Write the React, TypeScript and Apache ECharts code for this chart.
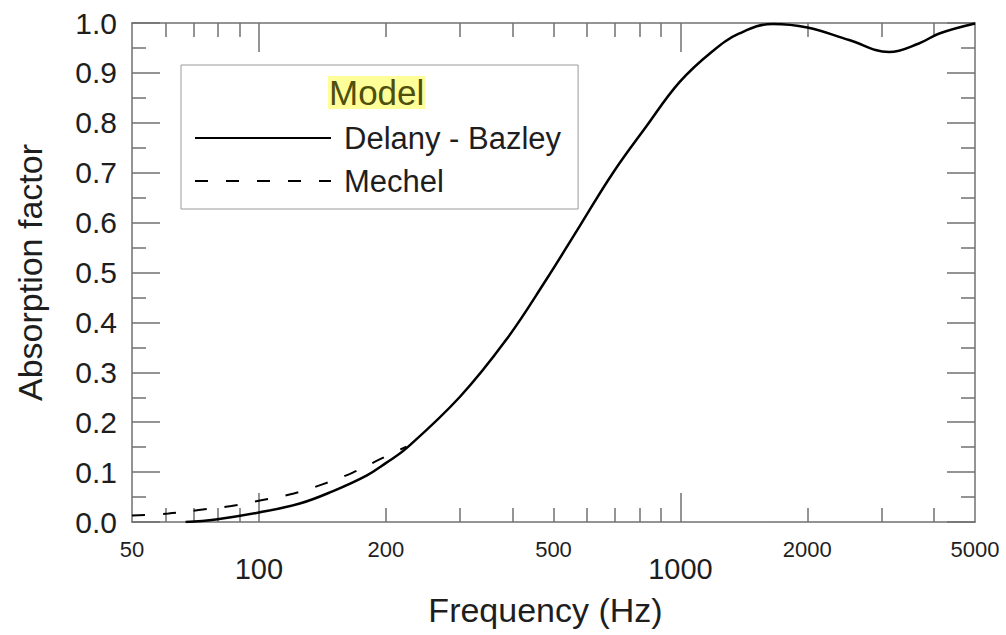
import React, { useEffect, useRef } from "react";
import * as echarts from "echarts";

const FONT = "'Liberation Sans', Arial, Helvetica, sans-serif";

// Delany - Bazley model (frequency in Hz, absorption factor)
const delanyFreq = [67, 79, 100, 125, 150, 180, 200, 224, 300, 386, 480, 576, 691, 829, 994, 1190, 1380, 1655, 2000, 2514, 3126, 3680, 4114, 5000];
const delanyAbs = [0.0, 0.005, 0.019, 0.037, 0.062, 0.093, 0.118, 0.148, 0.251, 0.365, 0.485, 0.592, 0.699, 0.792, 0.881, 0.943, 0.979, 0.998, 0.991, 0.966, 0.942, 0.959, 0.979, 0.999];

// Mechel model
const mechelFreq = [50, 61, 72, 86, 102, 121, 142, 167, 195, 224];
const mechelAbs = [0.013, 0.017, 0.024, 0.032, 0.044, 0.057, 0.076, 0.099, 0.127, 0.151];

// Axis ticks and labels
const minorFreqTicks = [60, 70, 80, 90, 200, 300, 400, 500, 600, 700, 800, 900, 2000, 3000, 4000];
const majorFreqTicks = [100, 1000];
const smallFreqLabels = [50, 200, 500, 2000, 5000];
const largeFreqLabels = [100, 1000];

const seriesNames = ["Delany - Bazley", "Mechel"];
const legendTitle = "Model";
const xTitle = "Frequency (Hz)";
const yTitle = "Absorption factor";

export default function App() {
  const ref = useRef<HTMLDivElement>(null);

  useEffect(() => {
    if (!ref.current) return;
    const chart = echarts.init(ref.current, null, { renderer: "svg" });
    const axisColor = "#707070";
    const textColor = "#1e1e1e";
    const lineStyle = { color: axisColor, width: 1.5 };
    const baseX: any = {
      type: "log",
      logBase: 10,
      min: 50,
      max: 5000,
      gridIndex: 0,
      splitLine: { show: false },
      minorTick: { show: false },
    };
    const pairs = (xs: number[], ys: number[]) => xs.map((x, i) => [x, ys[i]]);
    const plain = (v: number) => String(Math.round(v));

    chart.setOption({
      animation: false,
      grid: { left: 132, right: 31, top: 23, bottom: 113 },
      xAxis: [
        {
          ...baseX,
          position: "bottom",
          axisLine: { show: true, lineStyle },
          axisTick: { show: true, inside: true, length: 14, customValues: minorFreqTicks, lineStyle },
          axisLabel: {
            show: true,
            customValues: smallFreqLabels,
            formatter: plain,
            fontSize: 22,
            color: textColor,
            fontFamily: FONT,
            margin: 16,
          },
          name: xTitle,
          nameLocation: "middle",
          nameGap: 88,
          nameTextStyle: {
            fontSize: 34,
            color: textColor,
            fontFamily: FONT,
            verticalAlign: "middle",
            padding: [0, 16, 0, 0],
          },
        },
        {
          ...baseX,
          position: "bottom",
          axisLine: { show: false },
          axisTick: { show: true, inside: true, length: 29, customValues: majorFreqTicks, lineStyle },
          axisLabel: {
            show: true,
            customValues: largeFreqLabels,
            formatter: plain,
            fontSize: 29,
            color: textColor,
            fontFamily: FONT,
            margin: 32,
          },
        },
        {
          ...baseX,
          position: "top",
          axisLine: { show: true, lineStyle },
          axisTick: { show: true, inside: true, length: 14, customValues: minorFreqTicks, lineStyle },
          axisLabel: { show: false },
        },
        {
          ...baseX,
          position: "top",
          axisLine: { show: false },
          axisTick: { show: true, inside: true, length: 29, customValues: majorFreqTicks, lineStyle },
          axisLabel: { show: false },
        },
      ],
      yAxis: [
        {
          type: "value",
          min: 0,
          max: 1,
          interval: 0.1,
          position: "left",
          axisLine: { show: true, lineStyle },
          axisTick: { show: true, inside: true, length: 28, lineStyle },
          minorTick: { show: true, splitNumber: 2, length: 14, lineStyle },
          splitLine: { show: false },
          axisLabel: {
            formatter: (v: number) => v.toFixed(1),
            fontSize: 30,
            color: textColor,
            fontFamily: FONT,
            margin: 15,
          },
          name: yTitle,
          nameLocation: "middle",
          nameGap: 102,
          nameRotate: 90,
          nameTextStyle: {
            fontSize: 34,
            color: textColor,
            fontFamily: FONT,
            verticalAlign: "middle",
          },
        },
        {
          type: "value",
          min: 0,
          max: 1,
          interval: 0.1,
          position: "right",
          axisLine: { show: true, lineStyle },
          axisTick: { show: true, inside: true, length: 28, lineStyle },
          minorTick: { show: true, splitNumber: 2, length: 14, lineStyle },
          splitLine: { show: false },
          axisLabel: { show: false },
        },
      ],
      legend: {
        orient: "vertical",
        left: 181,
        top: 65,
        padding: [56, 17, 11, 13],
        borderColor: "#9a9a9a",
        borderWidth: 1,
        itemWidth: 136,
        itemHeight: 14,
        itemGap: 9,
        itemStyle: { opacity: 0 },
        textStyle: { fontSize: 31, color: textColor, fontFamily: FONT, lineHeight: 34, padding: [0, 0, 0, 8] },
        data: seriesNames,
      },
      graphic: [
        {
          type: "text",
          left: 328,
          top: 75,
          style: {
            text: legendTitle,
            fontSize: 35,
            fontFamily: FONT,
            fill: "#4f4f0c",
            backgroundColor: "#ffff99",
            lineHeight: 33,
            padding: [0, 1],
          },
          z: 100,
        },
      ],
      series: [
        {
          name: seriesNames[0],
          type: "line",
          xAxisIndex: 0,
          yAxisIndex: 0,
          data: pairs(delanyFreq, delanyAbs),
          smooth: 0.4,
          symbol: "none",
          lineStyle: { color: "#000", width: 2.5, type: "solid" },
          itemStyle: { color: "#000" },
        },
        {
          name: seriesNames[1],
          type: "line",
          xAxisIndex: 0,
          yAxisIndex: 0,
          data: pairs(mechelFreq, mechelAbs),
          smooth: 0.4,
          symbol: "none",
          lineStyle: { color: "#000", width: 2, type: [13, 18] },
          itemStyle: { color: "#000" },
        },
      ],
    });

    return () => chart.dispose();
  }, []);

  return (
    <div
      ref={ref}
      style={{ position: "absolute", left: 0, top: 0, width: 1006, height: 635, background: "#fff" }}
    />
  );
}
